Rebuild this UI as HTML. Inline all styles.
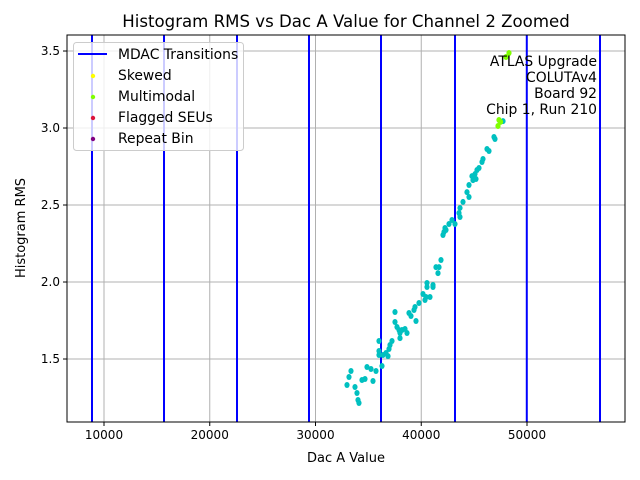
<!DOCTYPE html>
<html><head><meta charset="utf-8"><style>
body{margin:0;background:#fff;}
svg{display:block;font-family:"DejaVu Sans","Liberation Sans",sans-serif;}
</style></head><body>
<svg id="c" width="640" height="480" xmlns="http://www.w3.org/2000/svg"></svg>
<script>
const transitions=[8865,15674,22577,29385,36194,43191,49980,56903];
const xTicks=[10000,20000,30000,40000,50000];
const yTicks=[1.5,2.0,2.5,3.0,3.5];
const normX=[41867,41394,41678,41583,40543,40543,41110,41110,40165,40449,40827,40354,39786,39408,39314,38841,39030,39503,37517,37517,37706,37895,38463,38179,37990,38652,37990,37233,37044,36950,36666,36855,36004,36004,36004,36382,36288,35720,35248,34869,35437,34680,34396,33356,33167,32978,33734,33923,34112,34018,
47730,46878,46973,46406,46217,45839,45744,45460,45271,45082,44798,45176,44893,44515,44325,44515,43947,43663,43569,43663,42907,43191,42623,42245,42150,42056,42339];
const normY=[2.143,2.097,2.097,2.058,1.994,1.968,1.981,1.968,1.922,1.903,1.903,1.883,1.864,1.838,1.818,1.799,1.779,1.747,1.805,1.740,1.708,1.688,1.695,1.688,1.669,1.669,1.636,1.617,1.591,1.565,1.539,1.519,1.617,1.552,1.526,1.526,1.455,1.422,1.435,1.448,1.357,1.370,1.364,1.422,1.383,1.331,1.318,1.279,1.214,1.234,
3.045,2.942,2.929,2.851,2.864,2.799,2.779,2.740,2.727,2.701,2.688,2.669,2.662,2.630,2.584,2.552,2.520,2.481,2.448,2.422,2.403,2.377,2.377,2.351,2.325,2.305,2.338];
const multiX=[48297,48013,47351,47257,47500];
const multiY=[3.487,3.461,3.052,3.013,3.040];
const X0=6501,X1=59267,Y0=1.091,Y1=3.604;
const L=67,R=625,T=35,B=422;
const sx=v=>L+(v-X0)/(X1-X0)*(R-L);
const sy=v=>B-(v-Y0)/(Y1-Y0)*(B-T);
const svg=document.getElementById('c');
const NS='http://www.w3.org/2000/svg';
function mk(tag,attrs,txt){const e=document.createElementNS(NS,tag);for(const k in attrs)e.setAttribute(k,attrs[k]);if(txt!==undefined)e.textContent=txt;svg.appendChild(e);return e;}
let e;
e=mk('text',{x:346,y:27,'font-size':'16.6','text-anchor':'middle',fill:'#000'},'Histogram RMS vs Dac A Value for Channel 2 Zoomed');


xTicks.forEach(t=>{const x=sx(t);
e=mk('line',{x1:x,x2:x,y1:T,y2:B,stroke:'#b0b0b0','stroke-width':1});


mk('line',{x1:x,x2:x,y1:B,y2:B+4,stroke:'#000'});
e=mk('text',{x:x,y:B+17,'font-size':'12','text-anchor':'middle'},String(t));

});
yTicks.forEach(t=>{const y=sy(t);
e=mk('line',{x1:L,x2:R,y1:y,y2:y,stroke:'#b0b0b0','stroke-width':1});


mk('line',{x1:L-4,x2:L,y1:y,y2:y,stroke:'#000'});
e=mk('text',{x:L-7,y:y+4,'font-size':'12','text-anchor':'end'},t.toFixed(1));

});
transitions.forEach(t=>{const x=sx(t);
e=mk('line',{x1:x,x2:x,y1:T,y2:B,stroke:'#0000ff','stroke-width':2});

});
normX.forEach((v,i)=>{
e=mk('ellipse',{cx:sx(v),cy:sy(normY[i]),rx:2.6,ry:3,fill:'#00c0c0'});

});
multiX.forEach((v,i)=>{
e=mk('ellipse',{cx:sx(v),cy:sy(multiY[i]),rx:2.6,ry:3,fill:'#7fff00'});

});
e=mk('rect',{x:L,y:T,width:R-L,height:B-T,fill:'none',stroke:'#000','stroke-width':1});


['ATLAS Upgrade','COLUTAv4','Board 92','Chip 1, Run 210'].forEach((s,i)=>{
e=mk('text',{x:597,y:66+i*16,'font-size':'13.9','text-anchor':'end'},s);

});
e=mk('rect',{x:73.5,y:42.5,width:170,height:108,rx:3,fill:'#fff','fill-opacity':0.8,stroke:'#ccc'});


mk('line',{x1:78,x2:107,y1:54,y2:54,stroke:'#0000ff','stroke-width':2});
const leg=[['MDAC Transitions',null],['Skewed','#ffff00'],['Multimodal','#7fff00'],['Flagged SEUs','#dc143c'],['Repeat Bin','#800080']];
leg.forEach((l,i)=>{const y=54+i*21;
if(l[1])mk('circle',{cx:93,cy:y+1,r:2.2,fill:l[1]});
e=mk('text',{x:118,y:y+5,'font-size':'13.9'},l[0]);

});
e=mk('text',{x:346,y:462,'font-size':'13','text-anchor':'middle'},'Dac A Value');


e=mk('text',{x:25,y:228,'font-size':'13','text-anchor':'middle',transform:'rotate(-90 25 228)'},'Histogram RMS');


</script>
</body></html>
